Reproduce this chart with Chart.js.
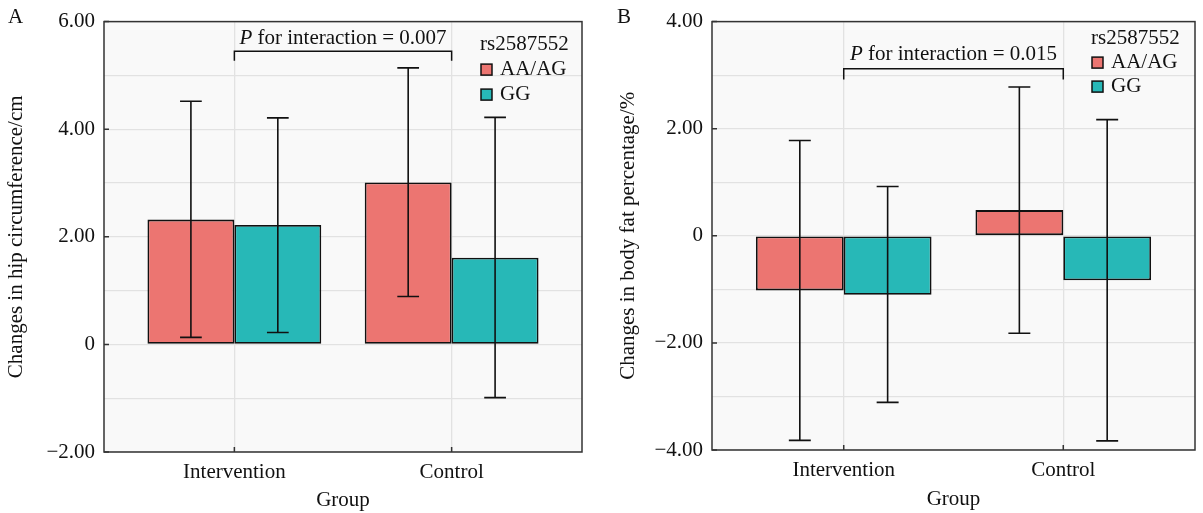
<!DOCTYPE html>
<html lang="en">
<head>
<meta charset="UTF-8">
<script src="https://cdn.jsdelivr.net/npm/chart.js"></script>
<style>
  body { margin: 0; background: #fff; }
  .row { display: flex; width: 1203px; height: 513px; }
  canvas { display: block; }
</style>
</head>
<body>
<div class="row">
  <canvas id="chartA" width="601" height="513"></canvas>
  <canvas id="chartB" width="602" height="513"></canvas>
</div>
<script>
// groups on the x axis
const groups = ['Intervention', 'Control']
const groupPos = [1, 2]
const genotypes = ['AA/AG', 'GG']

// panel A: changes in hip circumference (mean, lower and upper end of error bar)
const hipAA = [2.32, 3.01]
const hipAALow = [0.13, 0.89]
const hipAAHigh = [4.52, 5.14]
const hipGG = [2.22, 1.61]
const hipGGLow = [0.22, -0.99]
const hipGGHigh = [4.21, 4.22]
const hipTickValues = [-2, 0, 2, 4, 6]
const hipTickLabels = ['\u22122.00', '0', '2.00', '4.00', '6.00']

// panel B: changes in body fat percentage
const fatAA = [-1.02, 0.48]
const fatAALow = [-3.82, -1.82]
const fatAAHigh = [1.78, 2.78]
const fatGG = [-1.10, -0.83]
const fatGGLow = [-3.11, -3.83]
const fatGGHigh = [0.92, 2.17]
const fatTickValues = [-4, -2, 0, 2, 4]
const fatTickLabels = ['\u22124.00', '\u22122.00', '0', '2.00', '4.00']

const pValues = ['0.007', '0.015']

const serif = 'Liberation Serif'
const red = '#ec7571'
const teal = '#27b8b7'
const ink = '#111'

function points(vals) {
  return vals.map((v, i) => ({ x: groupPos[i], y: v }))
}

// draws panel background, error bars, frame, inner ticks, bracket, legend, panel letter
const extras = {
  id: 'extras',
  beforeDatasetsDraw(chart) {
    const a = chart.chartArea
    const ctx = chart.ctx
    ctx.save()
    ctx.globalCompositeOperation = 'destination-over'
    ctx.fillStyle = '#f9f9f9'
    ctx.fillRect(a.left, a.top, a.right - a.left, a.bottom - a.top)
    ctx.restore()
  },
  afterDatasetsDraw(chart, args, o) {
    const ctx = chart.ctx
    const xs = chart.scales.x
    const ys = chart.scales.y
    const a = chart.chartArea
    const capHalf = Math.abs(xs.getPixelForValue(0.05) - xs.getPixelForValue(0))
    ctx.save()
    ctx.strokeStyle = ink
    ctx.lineWidth = 1.6
    // error bars
    chart.data.datasets.forEach((ds, i) => {
      const meta = chart.getDatasetMeta(i)
      meta.data.forEach((bar, j) => {
        const lo = ys.getPixelForValue(ds.errLow[j])
        const hi = ys.getPixelForValue(ds.errHigh[j])
        ctx.beginPath()
        ctx.moveTo(bar.x, lo); ctx.lineTo(bar.x, hi)
        ctx.moveTo(bar.x - capHalf, lo); ctx.lineTo(bar.x + capHalf, lo)
        ctx.moveTo(bar.x - capHalf, hi); ctx.lineTo(bar.x + capHalf, hi)
        ctx.stroke()
      })
    })
    // frame
    ctx.strokeStyle = '#333'
    ctx.lineWidth = 1.5
    ctx.strokeRect(a.left, a.top, a.right - a.left, a.bottom - a.top)
    // inner ticks
    ctx.beginPath()
    o.yTicks.forEach(v => {
      const y = ys.getPixelForValue(v)
      ctx.moveTo(a.left, y); ctx.lineTo(a.left + 5, y)
    })
    groupPos.forEach(v => {
      const x = xs.getPixelForValue(v)
      ctx.moveTo(x, a.bottom); ctx.lineTo(x, a.bottom - 5)
    })
    ctx.stroke()
    // bracket
    const bx1 = xs.getPixelForValue(groupPos[0])
    const bx2 = xs.getPixelForValue(groupPos[1])
    const by = ys.getPixelForValue(o.bracketY)
    const bl = ys.getPixelForValue(o.bracketLeg)
    ctx.strokeStyle = ink
    ctx.beginPath()
    ctx.moveTo(bx1, bl); ctx.lineTo(bx1, by); ctx.lineTo(bx2, by); ctx.lineTo(bx2, bl)
    ctx.stroke()
    ctx.fillStyle = ink
    ctx.textBaseline = 'middle'
    ctx.textAlign = 'left'
    const italic = 'italic 21px "' + serif + '"'
    const normal = '21px "' + serif + '"'
    const rest = ' for interaction = ' + o.p
    ctx.font = italic
    const w1 = ctx.measureText('P').width
    ctx.font = normal
    const w2 = ctx.measureText(rest).width
    const tx = (bx1 + bx2) / 2 - (w1 + w2) / 2
    const ty = ys.getPixelForValue(o.textY)
    ctx.font = italic
    ctx.fillText('P', tx, ty)
    ctx.font = normal
    ctx.fillText(rest, tx + w1, ty)
    // legend
    const lx = a.right - o.legendRight
    let ly = a.top + o.legendTop
    ctx.fillText('rs2587552', lx, ly)
    chart.data.datasets.forEach(ds => {
      ly += o.legendStep
      ctx.fillStyle = ds.backgroundColor
      ctx.fillRect(lx + 1, ly - 5.5, 11, 11)
      ctx.strokeStyle = ink
      ctx.strokeRect(lx + 1, ly - 5.5, 11, 11)
      ctx.fillStyle = ink
      ctx.fillText(ds.label, lx + 20, ly)
    })
    // panel letter
    ctx.fillText(o.letter, o.letterX, o.letterY)
    ctx.restore()
  }
}

function makeChart(id, aa, aaLow, aaHigh, gg, ggLow, ggHigh, tickValues, tickLabels, yTitle, lay, ext) {
  return new Chart(document.getElementById(id), {
    type: 'bar',
    data: {
      datasets: [
        { label: genotypes[0], data: points(aa), errLow: aaLow, errHigh: aaHigh, backgroundColor: red },
        { label: genotypes[1], data: points(gg), errLow: ggLow, errHigh: ggHigh, backgroundColor: teal }
      ]
    },
    options: {
      responsive: false,
      animation: false,
      devicePixelRatio: 1,
      layout: { padding: { left: 0, right: lay.right, top: lay.top, bottom: 0 } },
      datasets: {
        bar: {
          categoryPercentage: 0.8,
          barPercentage: 1.0,
          borderWidth: 1.8,
          borderColor: ink,
          borderSkipped: false
        }
      },
      plugins: {
        legend: { display: false },
        tooltip: { enabled: false },
        extras: ext
      },
      scales: {
        x: {
          type: 'linear',
          offset: false,
          min: 0.4,
          max: 2.6,
          afterBuildTicks: s => { s.ticks = groupPos.map(v => ({ value: v })) },
          afterFit: s => { s.height = lay.xHeight },
          grid: { offset: false, color: '#e2e2e2', lineWidth: 1.3, drawTicks: false },
          border: { display: false },
          ticks: {
            autoSkip: false,
            maxRotation: 0,
            padding: 8,
            color: ink,
            font: { family: serif, size: 21 },
            callback: v => groups[groupPos.indexOf(v)]
          },
          title: { display: true, text: 'Group', color: ink, font: { family: serif, size: 21 }, padding: { bottom: lay.xTitlePad } }
        },
        y: {
          min: tickValues[0],
          max: tickValues[tickValues.length - 1],
          afterFit: s => { s.width = lay.yWidth },
          grid: { color: '#e2e2e2', lineWidth: 1.3, drawTicks: false },
          border: { display: false },
          ticks: {
            stepSize: 1,
            padding: 9,
            color: ink,
            font: { family: serif, size: 21 },
            callback: v => {
              const k = tickValues.indexOf(v)
              return k >= 0 ? tickLabels[k] : ''
            }
          },
          title: { display: true, text: yTitle, color: ink, font: { family: serif, size: 21 }, padding: { top: lay.yTitlePad } }
        }
      }
    },
    plugins: [extras]
  })
}

makeChart('chartA', hipAA, hipAALow, hipAAHigh, hipGG, hipGGLow, hipGGHigh,
  hipTickValues, hipTickLabels, 'Changes in hip circumference/cm',
  { right: 19, top: 16, xHeight: 61, yWidth: 104, yTitlePad: 4, xTitlePad: 0 },
  { yTicks: hipTickValues, p: pValues[0], bracketY: 5.45, bracketLeg: 5.27, textY: 5.69,
    legendRight: 102, legendTop: 23, legendStep: 25, letter: 'A', letterX: 8, letterY: 17 })

makeChart('chartB', fatAA, fatAALow, fatAAHigh, fatGG, fatGGLow, fatGGHigh,
  fatTickValues, fatTickLabels, 'Changes in body fat percentage/%',
  { right: 8, top: 14, xHeight: 63, yWidth: 111, yTitlePad: 15, xTitlePad: 1 },
  { yTicks: fatTickValues, p: pValues[1], bracketY: 3.12, bracketLeg: 2.92, textY: 3.38,
    legendRight: 104, legendTop: 17, legendStep: 24, letter: 'B', letterX: 16, letterY: 17 })
</script>
</body>
</html>
